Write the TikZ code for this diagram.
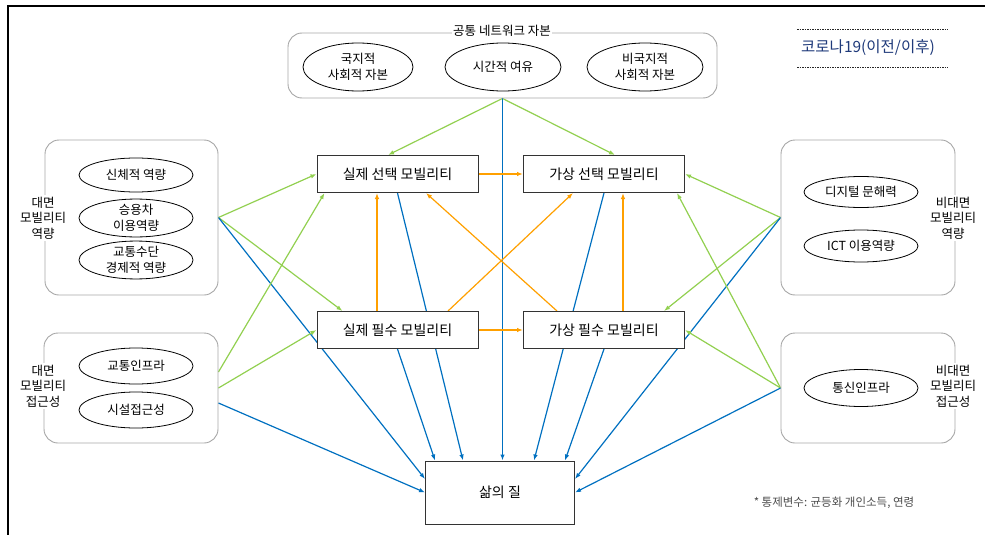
\documentclass[tikz,border=0pt]{standalone}
\usepackage{fontspec}
\setmainfont{Noto Sans CJK KR}
\usetikzlibrary{arrows.meta,shapes.geometric,calc}
\pgfdeclarelayer{edges}
\pgfsetlayers{edges,main}
\definecolor{lgreen}{HTML}{92D050}
\definecolor{mblue}{HTML}{0070C0}
\definecolor{orng}{HTML}{FFA000}
\definecolor{navy}{HTML}{1F3A7A}
\definecolor{grpline}{HTML}{A6A6A6}
\begin{document}
\begin{tikzpicture}[x=1pt,y=-1pt,
  font=\fontsize{12.5}{15.5}\selectfont,
  mob/.style={draw=black!80, line width=1pt, fill=white, minimum width=161pt,
    minimum height=37pt, inner sep=0pt, font=\fontsize{14}{16}\selectfont},
  grpbox/.style={draw=grpline, line width=0.9pt, rounded corners=14pt, inner sep=0pt},
  oval/.style={ellipse, draw=black, line width=0.8pt, fill=white, minimum width=114pt,
    minimum height=34pt, inner sep=0pt, align=center},
  glabel/.style={fill=white, align=center, inner sep=1.5pt},
  conn/.style={line width=1.2pt, -{Latex[length=6pt,width=4.5pt]}},
  gline/.style={conn, draw=lgreen},
  bline/.style={conn, draw=mblue},
  oline/.style={conn, draw=orng},
  rule/.style={dash pattern=on 1.5pt off 1pt, line width=0.6pt, draw=black!85}]
\useasboundingbox (0,0) rectangle (985,535);

% outer frame (top and left edges)
\draw[line width=2pt] (985,6) -- (8,6) -- (8,535);

% shared network capital group
\node[grpbox, minimum width=429pt, minimum height=65pt] (T) at (502.5,65.5) {};
\node[glabel] (Ttl) at (502,31) {공통 네트워크 자본};
\node[oval, minimum width=110pt, minimum height=48pt] (T1) at (358,67) {국지적\\사회적 자본};
\node[oval, minimum width=116pt, minimum height=48pt] (T2) at (503,67) {시간적 여유};
\node[oval, minimum width=116pt, minimum height=48pt] (T3) at (645,67) {비국지적\\사회적 자본};

% period marker
\node[text=navy, font=\fontsize{15.5}{18}\selectfont] (K) at (868,48) {코로나19(이전/이후)};
\draw[rule] (797,29) -- (948,29);
\draw[rule] (797,67) -- (948,67);

% face-to-face mobility capability
\node[grpbox, minimum width=173pt, minimum height=155pt] (L1) at (131.5,217.5) {};
\node[glabel] (L1t) at (43,218) {대면\\모빌리티\\역량};
\node[oval] (L1a) at (136,175) {신체적 역량};
\node[oval] (L1b) at (136,218) {승용차\\이용역량};
\node[oval] (L1c) at (136,260) {교통수단\\경제적 역량};

% face-to-face mobility accessibility
\node[grpbox, minimum width=174pt, minimum height=110pt] (L2) at (131,388) {};
\node[glabel] (L2t) at (43,386) {대면\\모빌리티\\접근성};
\node[oval, minimum height=36pt] (L2a) at (136,366) {교통인프라};
\node[oval, minimum height=36pt] (L2b) at (136,410) {시설접근성};

% non-face-to-face mobility capability
\node[grpbox, minimum width=174pt, minimum height=155pt] (R1) at (868,217.5) {};
\node[glabel] (R1t) at (953,218) {비대면\\모빌리티\\역량};
\node[oval, minimum height=31pt] (R1a) at (861,192) {디지털 문해력};
\node[oval, minimum height=32pt] (R1b) at (861,246) {ICT 이용역량};

% non-face-to-face mobility accessibility
\node[grpbox, minimum width=174pt, minimum height=110pt] (R2) at (868,388) {};
\node[glabel] (R2t) at (953,386) {비대면\\모빌리티\\접근성};
\node[oval, minimum height=37pt] (R2a) at (861,388) {통신인프라};

% mobility boxes and outcome
\node[mob] (RS) at (397.5,174) {실제 선택 모빌리티};
\node[mob] (VS) at (604,174) {가상 선택 모빌리티};
\node[mob] (RN) at (397.5,330) {실제 필수 모빌리티};
\node[mob] (VN) at (604,330) {가상 필수 모빌리티};
\node[mob, minimum width=149pt, minimum height=63pt] (Q) at (500,492.5) {삶의 질};

% footnote
\node[text=black!70, font=\fontsize{11.5}{13}\selectfont] (F) at (834,503) {* 통제변수: 균등화 개인소득, 연령};

\begin{pgfonlayer}{edges}
  % shared network capital
  \draw[gline] (T.south) -- ($(RS.north)+(-9.5,0)$);
  \draw[gline] (T.south) -- ($(VS.north)+(11,0)$);
  \draw[bline] (T.south) -- (T.south |- Q.north);

  % face-to-face capability
  \draw[gline] (L1.east) -- (RS.west);
  \draw[gline] (L1.east) -- ($(RN.north west)+(26,0)$);
  \draw[bline] (L1.east) -- ($(Q.west)+(0,-13.5)$);

  % face-to-face accessibility
  \draw[gline] ($(L2.east)+(0,-16)$) -- ($(RS.south west)+(8,0)$);
  \draw[gline] (L2.east) -- (RN.west);
  \draw[bline] ($(L2.east)+(0,15)$) -- (Q.west);

  % non-face-to-face capability
  \draw[gline] (R1.west) -- (VS.east);
  \draw[gline] (R1.west) -- ($(VN.north east)+(-21,0)$);
  \draw[bline] (R1.west) -- ($(Q.east)+(0,-13.5)$);

  % non-face-to-face accessibility
  \draw[gline] (R2.west) -- ($(VS.south east)+(-8,0)$);
  \draw[gline] (R2.west) -- (VN.east);
  \draw[bline] (R2.west) -- (Q.east);

  % mobility to quality of life
  \draw[bline] (RS.south) -- ($(Q.north)+(-37,0)$);
  \draw[bline] (RN.south) -- ($(Q.north)+(-65,0)$);
  \draw[bline] (VS.south) -- ($(Q.north)+(34,0)$);
  \draw[bline] (VN.south) -- ($(Q.north)+(65,0)$);

  % between mobility types
  \draw[oline] (RS.east) -- (VS.west);
  \draw[oline] (RN.east) -- (VN.west);
  \draw[oline] ($(RN.north)+(-20.5,0)$) -- ($(RS.south)+(-20.5,0)$);
  \draw[oline] ($(VN.north)+(19,0)$) -- ($(VS.south)+(19,0)$);
  \draw[oline] ($(RN.north)+(50.5,0)$) -- ($(VS.south)+(-31,0)$);
  \draw[oline] ($(VN.north)+(-47,0)$) -- ($(RS.south)+(28.5,0)$);
\end{pgfonlayer}
\end{tikzpicture}
\end{document}
